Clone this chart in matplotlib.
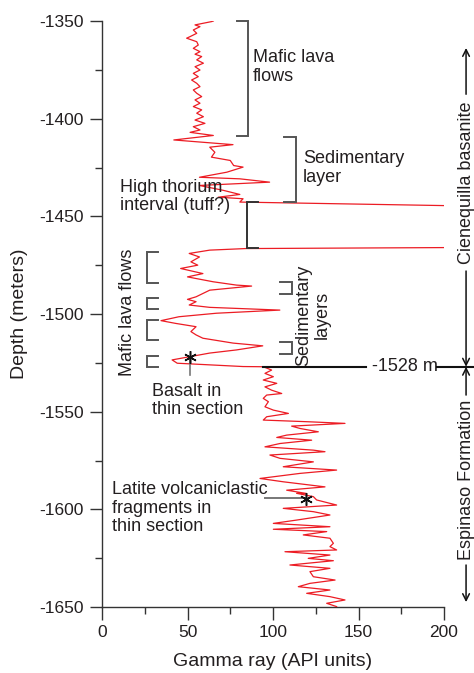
import matplotlib
matplotlib.use('Agg')
import matplotlib.pyplot as plt
from matplotlib.ticker import MultipleLocator

plt.rcParams['font.family'] = ['Liberation Sans', 'DejaVu Sans']
plt.rcParams['axes.unicode_minus'] = False

# Gamma-ray log (API units) vs depth (m)
gamma = [65.1, 64.1, 54.4, 57.3, 53.4, 55.4, 51.5, 49.5, 55.4, 56.3, 53.4, 57.3,
         54.4, 58.3, 55.4, 59.3, 54.4, 57.3, 53.4, 56.3, 52.4, 55.4, 57.3, 53.4,
         55.4, 58.3, 54.4, 57.3, 53.4, 58.3, 55.4, 59.3, 54.4, 60.2, 53.4, 57.3,
         51.5, 65.1,
         42, 76.6, 63, 66, 64, 75, 77,
         82.5, 73, 57, 80.6, 98, 57, 71, 80.6, 68, 82.5, 80.6, 200, 300, 300, 200,
         84, 63, 51, 57, 52, 56, 46, 59, 50, 65, 78.6, 87.5, 63, 55, 50, 55, 51, 63,
         104, 67, 45, 34.5, 43, 55, 52, 55, 59, 76.7, 94, 78.6, 63, 41, 44, 82.5,
         94.3, 99.2, 95.3, 100.2, 94.3, 102.2, 95.3, 99.2, 105.1, 96.3, 94.3, 97.3,
         95.3, 100.2, 109, 96.3, 94.3, 121.6, 142.1, 110.9, 115.8, 126.5, 108, 102.2,
         122.6, 104.1, 95.3, 123.6, 130.4, 98.2, 104.1, 123.6, 106, 137.2, 115.8,
         92.4, 106, 130.4, 108, 119.7,
         113.8, 123.6, 125.5, 137.2, 106, 123.6, 133.3, 113.8, 100.2, 133.3, 100.2,
         131.4, 117.7, 133.3, 135.3, 133.3, 137.2, 107, 133.3, 120.6, 135.3, 109.9,
         133.3, 121.6, 123.6, 136.3, 121.6, 114.8, 133.3, 119.7, 133.3, 142.1, 131.4,
         137.2]
depth = [-1350, -1350.3, -1352, -1352.9, -1354.6, -1356.3, -1358, -1358.8, -1360.6,
         -1362.3, -1364, -1365.7, -1367, -1368.2, -1369.9, -1371.6, -1373.4,
         -1375.1, -1376.8, -1378.5, -1380.2, -1381.9, -1383.6, -1385.3, -1387,
         -1388.7, -1390.4, -1392.1, -1393.8, -1395.5, -1397.2, -1399, -1400.7,
         -1402.4, -1404.1, -1405.8, -1407, -1408.6,
         -1410.9, -1413.3, -1414.6, -1417.2,
         -1419.7, -1421.4, -1424, -1424.8, -1427.4, -1430, -1430.8, -1432.5, -1434.2,
         -1436.7, -1438.8, -1440.2, -1441, -1442.7, -1444.5, -1445.5, -1465.5, -1466,
         -1466.5, -1467.3, -1469, -1470.8, -1473.3, -1475, -1476.7, -1479.3, -1481,
         -1483.5, -1485.2, -1485.7, -1487.8, -1491.2, -1492.5, -1493.7, -1495.4,
         -1496.6, -1498, -1499.6, -1501.4, -1503.4, -1504.8, -1506.5, -1509, -1510.7,
         -1512.4, -1514.9, -1516.3, -1518.4, -1520, -1523.5, -1525.2, -1526.9,
         -1527.0, -1528.7, -1530.4, -1532.1, -1533.8, -1535.5, -1537.3, -1539,
         -1540.7, -1541.5, -1543.2, -1544.9, -1547.5, -1549.2, -1550.9, -1552.6,
         -1554.3, -1555.2, -1556, -1557.4, -1558.6, -1560.3, -1562, -1563.2, -1564.6,
         -1566.3, -1568, -1569.7, -1570.5, -1572.2, -1573.9, -1575.7, -1578.2,
         -1579.9, -1581.6, -1584.2, -1585.9, -1588.5, -1590.2, -1591.9,
         -1591.8, -1593.5, -1595.2, -1597.8, -1599.5, -1601.2, -1602.9, -1605.5,
         -1607.2, -1608.9, -1610.2, -1611.4, -1613.1, -1614.8, -1617.4, -1619.1,
         -1620.8, -1621.7, -1623.4, -1625.1, -1626.3, -1628.5, -1630.2, -1631.9,
         -1634.5, -1636.2, -1637.9, -1639.6, -1641.3, -1643, -1644.7, -1646.4,
         -1648.1, -1649.8]

boundary_depth = -1527
boundary_label = "-1528 m"

TXT = '#231f20'
BRK = '#555555'
RED = '#ec1c24'
FS = 13

fig = plt.figure(figsize=(4.74, 6.73), dpi=100)
ax = fig.add_axes([102/474, 1-607/673, 342/474, 586/673])
ax.plot(gamma, depth, color=RED, lw=0.9, zorder=3)
ax.set_xlim(0, 200)
ax.set_ylim(-1650, -1350)
for s in ('top', 'right'):
    ax.spines[s].set_visible(False)
for s in ('left', 'bottom'):
    ax.spines[s].set_color('#333333')
    ax.spines[s].set_linewidth(1.0)
ax.xaxis.set_major_locator(MultipleLocator(50))
ax.xaxis.set_minor_locator(MultipleLocator(25))
ax.yaxis.set_major_locator(MultipleLocator(50))
ax.yaxis.set_minor_locator(MultipleLocator(25))
ax.tick_params(which='major', length=9, width=1, color='#333333',
               labelsize=12.5, labelcolor=TXT, pad=4)
ax.tick_params(which='minor', length=5, width=1, color='#333333')
ax.set_xlabel('Gamma ray (API units)', fontsize=14, color=TXT, labelpad=9)
ax.set_ylabel('Depth (meters)', fontsize=14, color=TXT, labelpad=8)

def bracket(x, x_tick, y0, y1, color=BRK, lw=1.4):
    ax.plot([x_tick, x, x, x_tick], [y0, y0, y1, y1], color=color, lw=lw,
            clip_on=False, zorder=4, solid_joinstyle='miter')

# Mafic lava flows (top)
bracket(85.4, 79, -1350, -1408.7)
ax.text(88.3, -1373.6, 'Mafic lava\nflows', fontsize=FS, color=TXT, va='center',
        ha='left', linespacing=1.1)
# Sedimentary layer
bracket(113.5, 106.4, -1409.4, -1442.7)
ax.text(117.5, -1425.3, 'Sedimentary\nlayer', fontsize=FS, color=TXT, va='center',
        ha='left', linespacing=1.1)
# High thorium interval
bracket(84.8, 91.2, -1442.7, -1466.2, color='#333333')
ax.text(10.5, -1440, 'High thorium\ninterval (tuff?)', fontsize=FS, color=TXT,
        va='center', ha='left', linespacing=1.1)
# Mafic lava flows (left brackets)
for y0, y1 in [(-1468.1, -1484), (-1491.7, -1497.6), (-1503.1, -1513.3),
               (-1521.5, -1527.3)]:
    bracket(26.1, 32.7, y0, y1)
ax.text(15.2, -1499.3, 'Mafic lava flows', fontsize=FS, color=TXT, rotation=90,
        va='center', ha='center')
# Sedimentary layers (right brackets)
for y0, y1 in [(-1483.5, -1489.8), (-1514.5, -1520.7)]:
    bracket(110.9, 104.1, y0, y1)
ax.text(123.4, -1500.5, 'Sedimentary\nlayers', fontsize=FS, color=TXT, rotation=90,
        va='center', ha='center', linespacing=1.1)
# Basalt in thin section
ax.plot([51.5, 51.5], [-1522.2, -1531.3], color='#777777', lw=1.2, zorder=4)
ax.plot([51.5], [-1522.2], marker=(6, 2, 0), ms=9, mew=1.1, color='#111111', zorder=5)
ax.text(29.2, -1544.3, 'Basalt in\nthin section', fontsize=FS, color=TXT,
        va='center', ha='left', linespacing=1.1)
# Latite
ax.plot([95.3, 119.3], [-1594.2, -1594.2], color='#777777', lw=1.4, zorder=4)
ax.plot([119.3], [-1594.8], marker=(6, 2, 0), ms=9, mew=1.1, color='#111111', zorder=5)
ax.text(5.8, -1599.4, 'Latite volcaniclastic\nfragments in\nthin section',
        fontsize=FS, color=TXT, va='center', ha='left', linespacing=1.1)

# Boundary line
ax.plot([94.2, 154.4], [boundary_depth]*2, color='#111111', lw=1.5, clip_on=False, zorder=4)
ax.text(157.9, boundary_depth, boundary_label, fontsize=FS, color=TXT, va='center', ha='left')
ax.plot([195.9, 218], [boundary_depth]*2, color='#111111', lw=1.5, clip_on=False, zorder=4)

# Right-side formation arrows
xr = 212.9
ap = dict(arrowstyle='->', color='#111111', lw=1.1, mutation_scale=12,
          shrinkA=0, shrinkB=0)
def arrow(y_from, y_to):
    ax.annotate('', xy=(xr, y_to), xytext=(xr, y_from), arrowprops=ap,
                annotation_clip=False)

arrow(-1387.5, -1363.8)
arrow(-1478, boundary_depth)
arrow(-1541.5, boundary_depth)
arrow(-1628.5, -1647.5)
ax.text(xr, -1432.8, 'Cienequilla basanite', fontsize=FS, color=TXT, rotation=90,
        va='center', ha='center', clip_on=False)
ax.text(xr, -1585, 'Espinaso Formation', fontsize=FS, color=TXT, rotation=90,
        va='center', ha='center', clip_on=False)

fig.savefig('out.png', dpi=100)
